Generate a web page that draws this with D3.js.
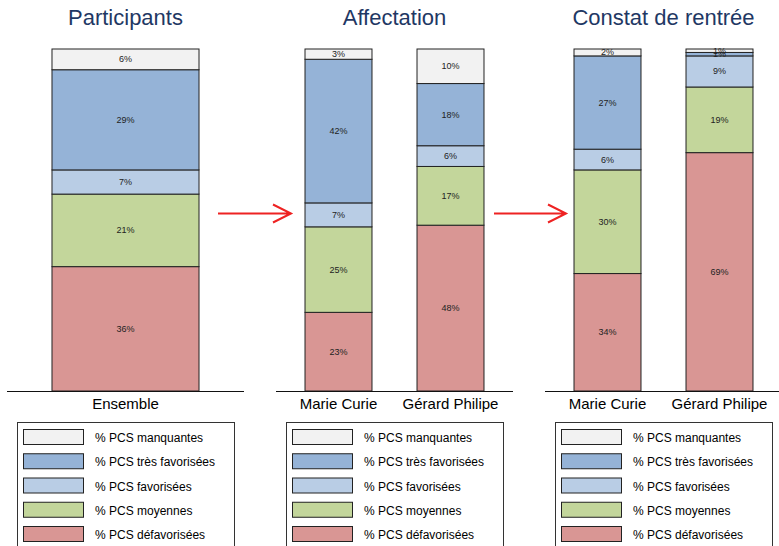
<!DOCTYPE html>
<html>
<head>
<meta charset="utf-8">
<script src="https://cdn.jsdelivr.net/npm/d3@7"></script>
<style>
  body { margin: 0; background: #fff; }
  svg { font-family: "Liberation Sans", Arial, sans-serif; display: block; }
</style>
</head>
<body>
<div id="chart"></div>
<script>
// stack order, bottom to top
const pcsKeys = ["defav", "moy", "fav", "tresFav", "manq"];
const pcsColors = ["#D99694", "#C3D69B", "#B9CDE5", "#95B3D7", "#F2F2F2"];
// legend order, top to bottom
const legendKeys = ["manq", "tresFav", "fav", "moy", "defav"];
const legendLabels = ["% PCS manquantes", "% PCS très favorisées", "% PCS favorisées", "% PCS moyennes", "% PCS défavorisées"];

const panelTitles = ["Participants", "Affectation", "Constat de rentrée"];

const participantsLabels = ["Ensemble"];
const participantsValues = [[36, 21, 7, 29, 6]];

const affectationLabels = ["Marie Curie", "Gérard Philipe"];
const affectationValues = [[23, 25, 7, 42, 3], [48, 17, 6, 18, 10]];

const constatLabels = ["Marie Curie", "Gérard Philipe"];
const constatValues = [[34, 30, 6, 27, 2], [69, 19, 9, 1, 1]];

const panels = [
  { title: panelTitles[0], labels: participantsLabels, values: participantsValues },
  { title: panelTitles[1], labels: affectationLabels, values: affectationValues },
  { title: panelTitles[2], labels: constatLabels, values: constatValues }
];

const W = 779, H = 546;
const svg = d3.select("#chart").append("svg").attr("width", W).attr("height", H);

const color = d3.scaleOrdinal().domain(pcsKeys).range(pcsColors);
const y = d3.scaleLinear().domain([0, 1]).range([391, 49]);
const panelLeft = [7, 276, 545];
const panelWidth = 237;

const stack = d3.stack().keys(pcsKeys).offset(d3.stackOffsetExpand);

panels.forEach((p, i) => {
  const x0 = panelLeft[i];
  const g = svg.append("g");

  const rows = p.labels.map((lab, j) => {
    const row = { label: lab };
    pcsKeys.forEach((k, n) => row[k] = p.values[j][n]);
    return row;
  });

  const x = d3.scaleBand().domain(p.labels).range([x0, x0 + panelWidth]);
  if (p.labels.length === 1) x.paddingInner(0).paddingOuter(0.306);
  else x.paddingInner(0.402).paddingOuter(0.259);

  // title
  g.append("text")
    .attr("x", x0 + panelWidth / 2).attr("y", 25)
    .attr("text-anchor", "middle")
    .attr("font-size", 22).attr("fill", "#1F3864")
    .text(p.title);

  const series = stack(rows);
  series.forEach(s => {
    const layer = g.append("g");
    layer.selectAll("rect").data(s).enter().append("rect")
      .attr("x", d => x(d.data.label))
      .attr("y", d => y(d[1]))
      .attr("width", x.bandwidth())
      .attr("height", d => y(d[0]) - y(d[1]))
      .attr("fill", color(s.key))
      .attr("stroke", "#222").attr("stroke-width", 1);
    layer.selectAll("text").data(s).enter().append("text")
      .attr("x", d => x(d.data.label) + x.bandwidth() / 2)
      .attr("y", d => (y(d[0]) + y(d[1])) / 2 + 3)
      .attr("text-anchor", "middle")
      .attr("font-size", 9).attr("fill", "#222")
      .text(d => d.data[s.key] + "%");
  });

  // category axis
  const ax = g.append("g").attr("transform", "translate(0,391)")
    .call(d3.axisBottom(x).tickSize(0).tickPadding(7));
  ax.select(".domain").attr("stroke", "#111").attr("d", `M${x0},0.5H${x0 + panelWidth}`);
  ax.selectAll("text").attr("font-size", 15).attr("fill", "#000")
    .attr("font-family", "Liberation Sans, Arial, sans-serif");

  // legend
  const lx = x0 + 10, lw = panelWidth - 20;
  const lg = g.append("g");
  lg.append("rect").attr("x", lx + 0.5).attr("y", 422.5).attr("width", lw).attr("height", 140)
    .attr("fill", "#fff").attr("stroke", "#333");
  legendKeys.forEach((k, n) => {
    const ry = 429 + n * 24.25;
    lg.append("rect").attr("x", lx + 6.5).attr("y", ry + 0.5).attr("width", 60).attr("height", 15)
      .attr("fill", color(k)).attr("stroke", "#222");
    lg.append("text").attr("x", lx + 78).attr("y", ry + 13)
      .attr("font-size", 12).attr("fill", "#000")
      .text(legendLabels[n]);
  });
});

// red arrows between panels
const arrows = [[218, 291], [494, 566]];
arrows.forEach(a => {
  const ay = 213.5;
  svg.append("path")
    .attr("d", `M${a[0]},${ay}H${a[1]}M${a[1] - 18},${ay - 9}L${a[1]},${ay}L${a[1] - 18},${ay + 9}`)
    .attr("fill", "none").attr("stroke", "#EE2222").attr("stroke-width", 2);
});
</script>
</body>
</html>
